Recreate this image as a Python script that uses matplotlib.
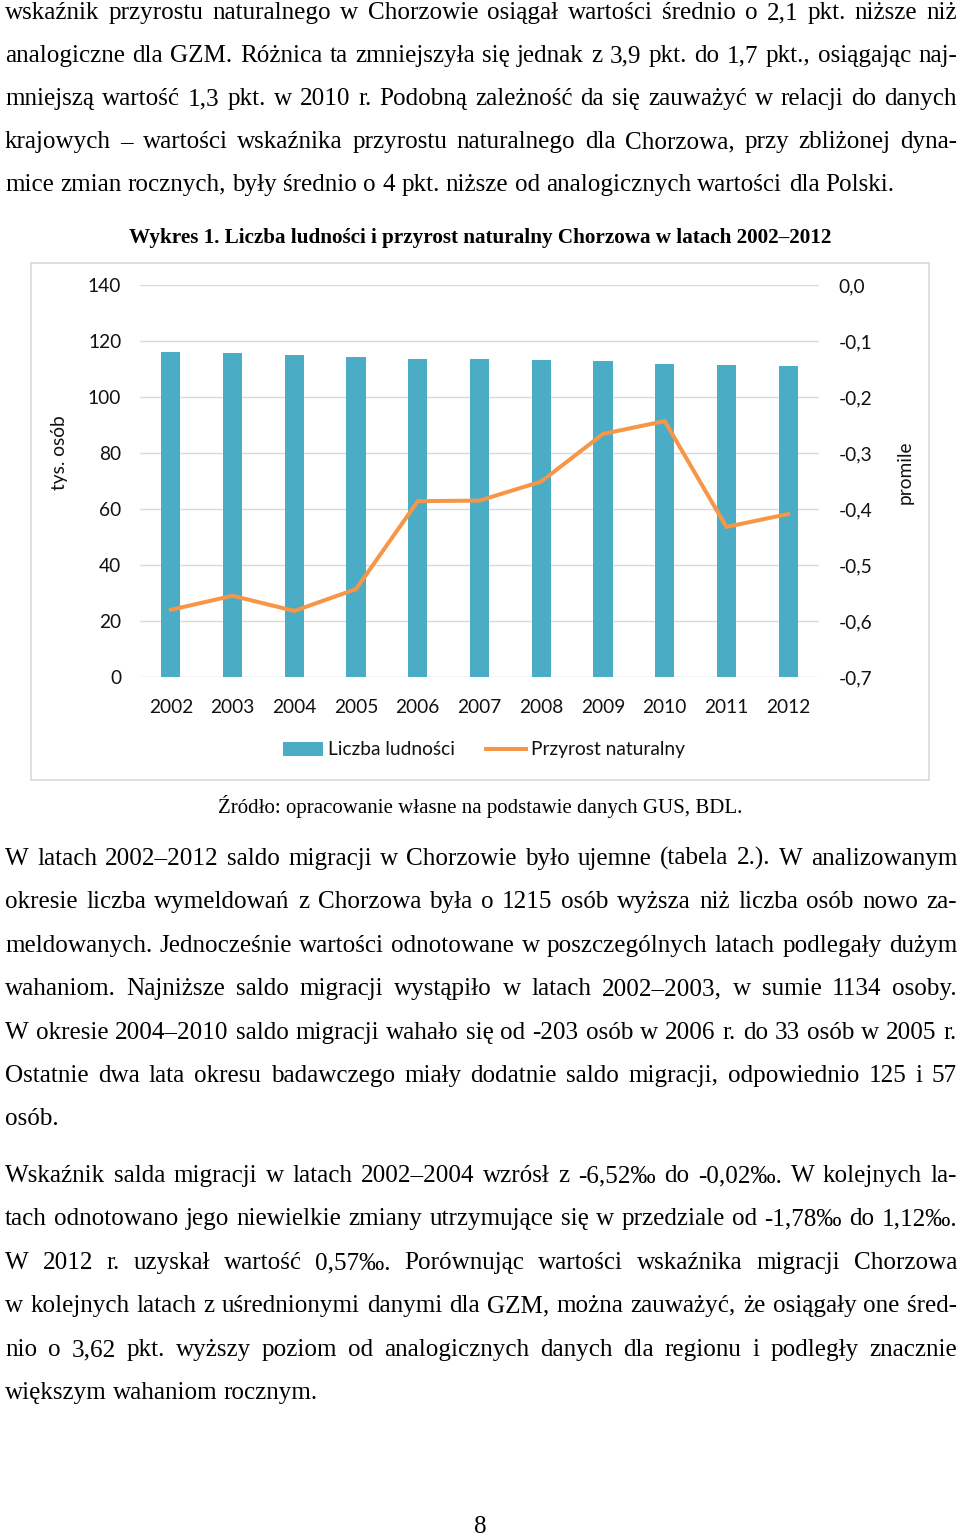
import matplotlib
matplotlib.use('Agg')
import matplotlib.pyplot as plt
import numpy as np
from matplotlib.patches import Rectangle, Patch
from matplotlib.lines import Line2D

# ---------------- data ----------------
years = ['2002', '2003', '2004', '2005', '2006', '2007', '2008', '2009', '2010', '2011', '2012']
population = [116.2, 115.6, 115.0, 114.4, 113.7, 113.4, 113.2, 112.9, 111.7, 111.3, 111.0]
natural_growth = [-0.580, -0.555, -0.582, -0.543, -0.386, -0.385, -0.351, -0.266, -0.243, -0.432, -0.409]
left_ticks = [0, 20, 40, 60, 80, 100, 120, 140]
right_ticks = [-0.7, -0.6, -0.5, -0.4, -0.3, -0.2, -0.1, 0.0]
series_names = ['Liczba ludności', 'Przyrost naturalny']
left_label = 'tys. osób'
right_label = 'promile'
title = 'Wykres 1. Liczba ludności i przyrost naturalny Chorzowa w latach 2002–2012'
source = 'Źródło: opracowanie własne na podstawie danych GUS, BDL.'

para1 = [
    "wskaźnik przyrostu naturalnego w Chorzowie osiągał wartości średnio o 2,1 pkt. niższe niż",
    "analogiczne dla GZM. Różnica ta zmniejszyła się jednak z 3,9 pkt. do 1,7 pkt., osiągając naj-",
    "mniejszą wartość 1,3 pkt. w 2010 r. Podobną zależność da się zauważyć w relacji do danych",
    "krajowych – wartości wskaźnika przyrostu naturalnego dla Chorzowa, przy zbliżonej dyna-",
    "mice zmian rocznych, były średnio o 4 pkt. niższe od analogicznych wartości dla Polski.",
]
para2 = [
    "W latach 2002–2012 saldo migracji w Chorzowie było ujemne (tabela 2.). W analizowanym",
    "okresie liczba wymeldowań z Chorzowa była o 1215 osób wyższa niż liczba osób nowo za-",
    "meldowanych. Jednocześnie wartości odnotowane w poszczególnych latach podlegały dużym",
    "wahaniom. Najniższe saldo migracji wystąpiło w latach 2002–2003, w sumie 1134 osoby.",
    "W okresie 2004–2010 saldo migracji wahało się od -203 osób w 2006 r. do 33 osób w 2005 r.",
    "Ostatnie dwa lata okresu badawczego miały dodatnie saldo migracji, odpowiednio 125 i 57",
    "osób.",
]
para3 = [
    "Wskaźnik salda migracji w latach 2002–2004 wzrósł z -6,52‰ do -0,02‰. W kolejnych la-",
    "tach odnotowano jego niewielkie zmiany utrzymujące się w przedziale od -1,78‰ do 1,12‰.",
    "W 2012 r. uzyskał wartość 0,57‰. Porównując wartości wskaźnika migracji Chorzowa",
    "w kolejnych latach z uśrednionymi danymi dla GZM, można zauważyć, że osiągały one śred-",
    "nio o 3,62 pkt. wyższy poziom od analogicznych danych dla regionu i podległy znacznie",
    "większym wahaniom rocznym.",
]
page_number = '8'

# ---------------- layout ----------------
W, H = 960, 1537
fig = plt.figure(figsize=(W / 100, H / 100), dpi=100)
fig.patch.set_facecolor('white')
renderer = fig.canvas.get_renderer()

def fx(px):
    return px / W

def fy(py):
    return 1 - py / H

SERIF = 'Liberation Serif'
SANS = 'Lato'
BODY = 18.1

def measure(s, size=BODY, weight='normal'):
    t = fig.text(0, 0, s, fontsize=size, family=SERIF, weight=weight)
    w = t.get_window_extent(renderer).width
    t.remove()
    return w

space_w = measure('a a') - measure('aa')

def text_line(s, y_center, justify=True, x0=5, x1=957):
    words = s.split(' ')
    base = fy(y_center + 7)
    texts = [fig.text(0, base, w, fontsize=BODY, family=SERIF, va='baseline', ha='left') for w in words]
    widths = [t.get_window_extent(renderer).width for t in texts]
    if justify and len(words) > 1:
        gap = (x1 - x0 - sum(widths)) / (len(words) - 1)
    else:
        gap = space_w
    x = x0
    for t, w in zip(texts, widths):
        t.set_x(fx(x))
        x += w + gap

def paragraph(lines, ys):
    for i, (s, y) in enumerate(zip(lines, ys)):
        text_line(s, y, justify=(i < len(lines) - 1))

paragraph(para1, [12, 55, 98, 141, 184])
paragraph(para2, [858, 901, 945, 988, 1032, 1075, 1118])
paragraph(para3, [1175, 1218, 1262, 1305, 1349, 1392])

fig.text(fx(480), fy(238), title, fontsize=15.2, family=SERIF, weight='bold', ha='center', va='center')
fig.text(fx(480), fy(806), source, fontsize=15, family=SERIF, ha='center', va='center')
fig.text(fx(480), fy(1533), page_number, fontsize=BODY, family=SERIF, ha='center', va='baseline')

# chart frame
fig.add_artist(Rectangle((fx(31), fy(780)), (929 - 31) / W, (780 - 263) / H,
                         transform=fig.transFigure, fill=False, edgecolor='#D9D9D9', lw=1.2))

# ---------------- chart ----------------
BAR_C = '#4BACC6'
LINE_C = '#F79646'
TICK_FS = 13.8

ax = fig.add_axes([fx(140), fy(677), 679 / W, 392 / H])
x = np.arange(len(years))
bars = ax.bar(x, population, width=0.31, color=BAR_C, zorder=2)
ax.set_xlim(-0.5, len(years) - 0.5)
ax.set_ylim(0, 140)
ax.set_yticks(left_ticks)
ax.set_yticklabels([str(v) for v in left_ticks])
ax.set_xticks(x)
ax.set_xticklabels(years)
ax.grid(axis='y', color='#D9D9D9', lw=1)
ax.set_axisbelow(True)
for s in ax.spines.values():
    s.set_visible(False)
ax.tick_params(axis='y', length=0, labelsize=TICK_FS, pad=13.5, labelcolor='#111111')
ax.tick_params(axis='x', length=0, labelsize=TICK_FS, pad=15.5, labelcolor='#111111')
for lab in ax.get_xticklabels() + ax.get_yticklabels():
    lab.set_family(SANS)

ax2 = ax.twinx()
line, = ax2.plot(x, natural_growth, color=LINE_C, lw=2.9, solid_joinstyle='miter', zorder=3)
ax2.set_ylim(-0.7, 0.0)
ax2.set_yticks(right_ticks)
ax2.set_yticklabels([('%.1f' % round(v, 1)).replace('.', ',').replace('-0,0', '0,0') for v in right_ticks])
for s in ax2.spines.values():
    s.set_visible(False)
ax2.tick_params(axis='y', length=0, labelsize=TICK_FS, pad=14, labelcolor='#111111')
for lab in ax2.get_yticklabels():
    lab.set_family(SANS)

fig.text(fx(60), fy(453), left_label, rotation=90, fontsize=TICK_FS, family=SANS,
         ha='center', va='center', color='#111111')
fig.text(fx(905), fy(472), right_label, rotation=90, fontsize=TICK_FS, family=SANS,
         ha='center', va='center', color='#111111')

handles = [Patch(facecolor=BAR_C, edgecolor='none'), Line2D([], [], color=LINE_C, lw=2.9)]
leg = fig.legend(handles, series_names, loc='center', bbox_to_anchor=(fx(484), fy(750)),
                 ncol=2, frameon=False, handlelength=2.1, handleheight=0.75,
                 handletextpad=0.25, columnspacing=1.6,
                 prop={'family': SANS, 'size': TICK_FS})
for t in leg.get_texts():
    t.set_color('#111111')

fig.savefig('out.png', dpi=100, facecolor='white')
